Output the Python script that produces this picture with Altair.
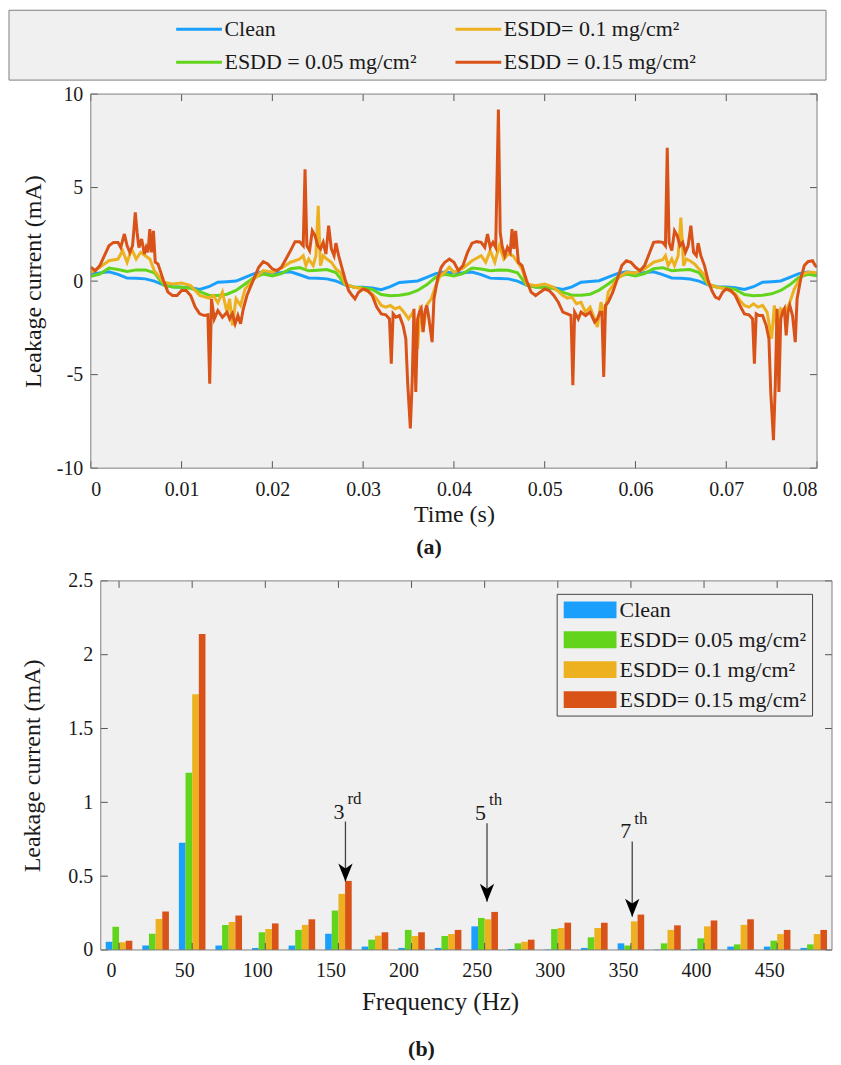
import altair as alt
import pandas as pd

FONT = "Liberation Serif"
BLUE, GREEN, YELLOW, RED = "#1aa0fc", "#62d41c", "#edb120", "#d95319"
BG, FRAME, TICK, INK = "#f0f0f0", "#7f7f7f", "#555555", "#1a1a1a"

# ---------------- panel (a): leakage current waveforms ----------------
A_CLEAN, A_LOW, A_MID, A_HIGH = "Clean", "ESDD = 0.05 mg/cm²", "ESDD= 0.1 mg/cm²", "ESDD = 0.15 mg/cm²"

clean_t = list(range(81))  # ms
clean_v = [0.38, 0.44, 0.50, 0.36, 0.16, 0.15, 0.12, 0.00, -0.20, -0.30, -0.33, -0.36, -0.45, -0.30, -0.06, -0.03, 0.00, 0.20, 0.40, 0.50,
           0.44, 0.46, 0.50, 0.34, 0.17, 0.15, 0.12, 0.01, -0.20, -0.31, -0.33, -0.37, -0.46, -0.30, -0.07, -0.03, 0.01, 0.20, 0.40, 0.49,
           0.43, 0.45, 0.49, 0.35, 0.16, 0.14, 0.12, 0.00, -0.21, -0.30, -0.33, -0.36, -0.45, -0.31, -0.06, -0.02, 0.02, 0.21, 0.40, 0.50,
           0.44, 0.46, 0.50, 0.35, 0.17, 0.15, 0.11, 0.00, -0.20, -0.30, -0.32, -0.36, -0.45, -0.30, -0.06, -0.03, 0.01, 0.20, 0.40, 0.48, 0.40]

low_t = list(range(81))  # ms
low_v = [0.26, 0.38, 0.70, 0.62, 0.52, 0.60, 0.60, 0.45, -0.20, -0.32, -0.33, -0.38, -0.56, -0.75, -0.77, -0.70, -0.50, -0.15, 0.20, 0.38,
         0.27, 0.40, 0.66, 0.72, 0.55, 0.58, 0.62, 0.46, -0.18, -0.33, -0.35, -0.45, -0.72, -0.78, -0.75, -0.68, -0.50, -0.20, 0.22, 0.36,
         0.28, 0.40, 0.70, 0.65, 0.55, 0.60, 0.58, 0.45, -0.20, -0.33, -0.34, -0.40, -0.60, -0.75, -0.76, -0.70, -0.48, -0.15, 0.20, 0.38,
         0.27, 0.40, 0.67, 0.72, 0.56, 0.60, 0.62, 0.46, -0.18, -0.33, -0.35, -0.45, -0.72, -0.78, -0.76, -0.68, -0.50, -0.20, 0.20, 0.36, 0.28]

mid_t = [0, 1, 2, 3, 3.5, 4, 4.5, 5, 5.5, 6, 6.5, 7, 8, 9, 10, 11, 12, 13, 13.5, 14, 14.5, 15, 15.3, 15.6, 16, 16.5, 17, 18, 19,
         20, 21, 22, 22.5, 23, 23.4, 23.7, 24, 24.5, 24.8, 25.05, 25.3, 25.6, 26, 26.5, 27, 27.5, 28, 29, 30, 31, 31.5, 32, 32.5, 33, 33.5, 34, 34.5, 35, 35.5, 36, 36.3, 36.6, 37, 37.5, 38, 38.5, 39, 39.5,
         40, 41, 42, 43, 43.5, 44, 44.5, 45, 45.5, 46, 46.5, 47, 47.5, 48, 49, 50, 51, 52, 52.5, 53, 53.5, 54, 54.5, 55, 55.5, 55.8, 56.2, 56.6, 57, 58, 59,
         60, 61, 62, 63, 63.3, 63.6, 64, 64.3, 64.7, 65.0, 65.3, 65.6, 66, 66.5, 67, 67.5, 68, 69, 70, 71, 71.5, 72, 72.5, 73, 73.5, 74, 74.5, 75, 75.3, 75.6, 76, 76.5, 77, 77.5, 78, 78.5, 79, 79.5, 80]
mid_v = [0.47, 0.74, 1.09, 1.18, 1.63, 1.00, 1.72, 1.18, 1.54, 1.36, 1.18, 0.56, -0.06, -0.15, -0.10, -0.24, -0.77, -0.91, -0.77, -1.16, -0.59, -1.66, -0.95, -2.37, -0.95, -1.30, -0.42, 0.12, 0.56,
         0.47, 0.69, 1.01, 1.09, 1.18, 1.36, 0.83, 1.18, 0.83, 1.36, 4.02, 0.83, 1.36, 1.18, 1.01, 0.65, 0.47, -0.15, -0.33, -0.42, -0.68, -0.95, -1.30, -1.39, -1.30, -1.48, -1.39, -1.66, -2.02, -1.66, -3.62, -1.30, -2.72, -1.30, -0.95, -0.24, 0.29, 0.47, 0.74,
         0.47, 0.69, 1.09, 1.36, 1.01, 1.63, 1.01, 1.89, 1.18, 1.45, 1.36, 1.01, 0.65, -0.15, -0.24, -0.15, -0.33, -0.77, -0.91, -0.86, -1.21, -1.13, -1.66, -1.39, -2.02, -2.46, -1.13, -1.84, -0.59, 0.12, 0.47,
         0.44, 0.65, 1.01, 1.15, 1.36, 0.83, 1.18, 0.83, 1.36, 3.40, 0.83, 1.18, 1.09, 0.92, 0.65, 0.38, -0.15, -0.33, -0.42, -0.68, -1.04, -1.30, -1.39, -1.21, -1.39, -1.30, -1.66, -3.08, -1.30, -2.72, -1.48, -1.66, -1.13, -0.42, 0.03, 0.38, 0.47, 0.47, 0.44]

high_t = [0, 0.5, 1, 1.5, 2, 2.5, 3, 3.3, 3.7, 4, 4.3, 4.6, 4.9, 5.1, 5.3, 5.6, 5.9, 6.1, 6.3, 6.5, 6.7, 6.9, 7.1, 7.4, 8, 8.5, 9, 9.5, 10, 10.5, 11, 11.5, 12, 12.5, 12.9, 13.1, 13.3, 13.6, 14, 14.5, 15, 15.3, 15.6, 15.9, 16.2, 16.5, 16.8, 17.2, 17.8, 18.5, 19, 19.5,
          20, 20.5, 21, 21.5, 22, 22.5, 23, 23.4, 23.6, 23.8, 24.1, 24.4, 24.7, 25, 25.3, 25.6, 25.9, 26.2, 26.5, 26.8, 27, 27.3, 27.6, 28, 28.4, 28.8, 29.1, 29.5, 30, 30.5, 31, 31.5, 32, 32.5, 32.9, 33.1, 33.3, 33.6, 34, 34.4, 34.7, 34.9, 35.2, 35.4, 35.6, 35.8, 36.0, 36.2, 36.4, 36.6, 36.8, 37.0, 37.2, 37.6, 37.8, 38.2, 38.6, 39, 39.5,
          40, 40.5, 41, 41.5, 42, 42.5, 43, 43.4, 43.7, 44, 44.3, 44.6, 44.9, 45.1, 45.3, 45.6, 45.9, 46.2, 46.4, 46.6, 46.8, 47.1, 47.5, 48, 48.5, 49, 49.5, 50, 50.5, 51, 51.5, 52, 52.5, 52.9, 53.1, 53.3, 53.7, 54, 54.5, 55, 55.5, 55.8, 56.1, 56.3, 56.5, 56.7, 57, 57.5, 58, 58.5, 59, 59.5,
          60, 60.5, 61, 61.5, 62, 62.5, 63, 63.3, 63.5, 63.7, 64, 64.3, 64.6, 64.9, 65.2, 65.5, 65.8, 66.1, 66.4, 66.7, 66.9, 67.2, 67.6, 68, 68.4, 68.8, 69.2, 69.6, 70, 70.5, 71, 71.5, 72, 72.5, 72.9, 73.1, 73.3, 73.6, 74, 74.4, 74.7, 74.9, 75.2, 75.4, 75.6, 75.8, 76.0, 76.2, 76.4, 76.6, 76.8, 77.0, 77.3, 77.6, 77.8, 78.2, 78.6, 79, 79.5, 79.8, 80]
high_v = [0.74, 0.56, 0.83, 1.36, 1.89, 2.07, 2.07, 1.80, 2.52, 1.89, 1.54, 1.89, 3.67, 2.60, 1.80, 2.25, 1.45, 1.80, 1.54, 2.78, 1.54, 2.69, 1.01, 0.92, 0.03, -0.59, -0.77, -0.77, -0.50, -0.50, -0.77, -1.39, -1.75, -1.84, -1.80, -5.48, -0.95, -2.02, -1.57, -1.93, -1.66, -2.02, -1.75, -2.28, -1.84, -2.28, -1.48, -0.77, -0.06, 0.74, 1.04, 0.92,
          0.65, 0.56, 0.74, 1.18, 1.63, 2.11, 2.11, 1.89, 5.98, 1.89, 1.63, 2.69, 2.43, 1.89, 1.72, 2.07, 1.45, 2.96, 1.72, 1.36, 2.03, 1.36, 0.83, 0.12, -0.50, -0.77, -0.95, -0.59, -0.42, -0.50, -0.77, -1.39, -1.75, -1.80, -2.02, -4.41, -1.75, -1.93, -1.84, -2.37, -3.08, -5.39, -7.88, -5.39, -1.48, -5.92, -2.02, -1.66, -1.48, -2.72, -1.66, -1.30, -1.84, -3.26, -0.95, 0.12, 0.74, 1.01, 1.18,
          1.01, 0.56, 0.83, 1.54, 2.03, 2.11, 2.07, 1.80, 2.52, 1.80, 2.07, 1.80, 9.18, 2.60, 1.89, 1.36, 1.80, 1.54, 2.78, 1.72, 2.69, 1.01, 0.83, 0.03, -0.59, -0.77, -0.59, -0.42, -0.50, -0.77, -1.13, -1.66, -1.75, -1.84, -5.57, -1.66, -2.02, -1.66, -1.84, -1.66, -2.19, -2.02, -1.66, -1.66, -5.12, -1.30, -1.13, -0.59, 0.12, 0.83, 1.09, 1.01,
          0.74, 0.56, 0.83, 1.45, 2.07, 2.11, 2.07, 1.89, 7.13, 2.07, 1.63, 2.69, 2.43, 1.89, 2.07, 1.54, 1.89, 2.96, 1.54, 1.36, 2.03, 1.36, 0.83, 0.03, -0.50, -0.86, -0.95, -0.59, -0.42, -0.50, -0.77, -1.30, -1.75, -1.80, -2.02, -4.41, -1.75, -1.84, -1.84, -2.37, -3.08, -5.92, -8.50, -5.57, -1.48, -5.92, -2.02, -1.66, -1.48, -2.90, -1.66, -1.30, -1.84, -3.26, -0.95, 0.12, 0.83, 1.04, 1.09, 0.83, 0.74]

time_ticks = [0, 0.01, 0.02, 0.03, 0.04, 0.05, 0.06, 0.07, 0.08]
current_ticks = [-10, -5, 0, 5, 10]

# ---------------- panel (b): harmonic spectrum ----------------
B_CLEAN, B_LOW, B_MID, B_HIGH = "Clean", "ESDD= 0.05 mg/cm²", "ESDD= 0.1 mg/cm²", "ESDD= 0.15 mg/cm²"
freq_hz = [0, 25, 50, 75, 100, 125, 150, 175, 200, 225, 250, 275, 300, 325, 350, 375, 400, 425, 450, 475]
clean_mA = [0.056, 0.030, 0.727, 0.030, 0.014, 0.030, 0.110, 0.023, 0.014, 0.014, 0.160, 0.007, 0.003, 0.014, 0.045, 0.003, 0.007, 0.023, 0.023, 0.014]
low_mA = [0.158, 0.110, 1.200, 0.170, 0.120, 0.136, 0.267, 0.070, 0.136, 0.095, 0.217, 0.045, 0.142, 0.086, 0.030, 0.045, 0.079, 0.038, 0.063, 0.038]
mid_mA = [0.052, 0.210, 1.733, 0.190, 0.142, 0.170, 0.380, 0.097, 0.095, 0.108, 0.208, 0.056, 0.149, 0.149, 0.194, 0.136, 0.160, 0.170, 0.108, 0.108]
high_mA = [0.063, 0.260, 2.140, 0.233, 0.180, 0.208, 0.468, 0.120, 0.120, 0.136, 0.258, 0.070, 0.185, 0.185, 0.240, 0.167, 0.200, 0.208, 0.136, 0.136]
freq_ticks = [0, 50, 100, 150, 200, 250, 300, 350, 400, 450]
amp_ticks = [0, 0.5, 1, 1.5, 2, 2.5]

ann_num = ["3", "5", "7"]
ann_sup = ["rd", "th", "th"]
ann_hz = [154.8, 251.6, 350.9]
ann_top = [0.870, 0.858, 0.735]
ann_tip = [0.464, 0.327, 0.226]

# ---------------- tables ----------------
rows_a = []
for name, ts, vs in [(A_CLEAN, clean_t, clean_v), (A_LOW, low_t, low_v), (A_MID, mid_t, mid_v), (A_HIGH, high_t, high_v)]:
    assert len(ts) == len(vs), name
    for t, v in zip(ts, vs):
        rows_a.append({"t": t / 1000.0, "v": v, "series": name})
df_a = pd.DataFrame(rows_a)

rows_b = []
for k, (name, vals) in enumerate([(B_CLEAN, clean_mA), (B_LOW, low_mA), (B_MID, mid_mA), (B_HIGH, high_mA)]):
    for f, v in zip(freq_hz, vals):
        rows_b.append({"hz": f, "k": k, "mA": v, "series": name})
df_b = pd.DataFrame(rows_b)
df_ann = pd.DataFrame({"hz": ann_hz, "top": ann_top, "tip": ann_tip, "num": ann_num, "sup": ann_sup})

one = alt.Data(values=[{"a": 1}])

# ---------------- chart (a) ----------------
W_A, H_A = 728, 375
xs_a = alt.Scale(domain=[0, 0.08], nice=False, zero=False)
ys_a = alt.Scale(domain=[-10, 10], nice=False, zero=False)
col_a = alt.Scale(domain=[A_CLEAN, A_LOW, A_MID, A_HIGH], range=[BLUE, GREEN, YELLOW, RED])
ax_x_a = alt.Axis(values=time_ticks, format=".2~f", ticks=False, domain=False, grid=False,
                  labelFont=FONT, labelFontSize=20, labelColor=INK, labelPadding=11, title="Time (s)",
                  titleFont=FONT, titleFontSize=24, titleFontWeight="normal", titleColor=INK, titlePadding=3)
ax_y_a = alt.Axis(values=current_ticks, labelExpr="replace(datum.label, '\u2212', '-')", ticks=False,
                  domain=False, grid=False, labelFont=FONT, labelFontSize=20, labelColor=INK, labelPadding=8,
                  title="Leakage current (mA)", titleFont=FONT, titleFontSize=24, titleFontWeight="normal",
                  titleColor=INK, titlePadding=11)
leg_a = alt.Legend(orient="none", legendX=83, legendY=-76, columns=2, columnPadding=32, rowPadding=11,
                   symbolType="M-2.7,0L2.7,0", symbolSize=289, symbolStrokeWidth=3, symbolOffset=14.5,
                   labelFont=FONT, labelFontSize=22, labelColor=INK, labelOffset=14.5, labelLimit=400,
                   padding=0, title=None)
X_A = alt.X("t:Q", scale=xs_a, axis=ax_x_a)
Y_A = alt.Y("v:Q", scale=ys_a, axis=ax_y_a)

legend_box_a = alt.Chart(one).mark_rect(fill=BG, stroke=FRAME, strokeWidth=1).encode(
    x=alt.value(-82), x2=alt.value(737), y=alt.value(-84), y2=alt.value(-14))
bg_a = alt.Chart(one).mark_rect(fill=BG).encode(
    x=alt.value(0), x2=alt.value(W_A), y=alt.value(0), y2=alt.value(H_A))
lines_a = [
    alt.Chart(df_a).transform_filter(alt.datum.series == name).mark_line(strokeWidth=3, clip=True).encode(
        x=X_A, y=Y_A, color=alt.Color("series:N", scale=col_a, legend=leg_a))
    for name in [A_CLEAN, A_LOW, A_MID, A_HIGH]
]
tx_a = pd.DataFrame({"t": time_ticks})
ty_a = pd.DataFrame({"v": current_ticks})
ticks_a = [
    alt.Chart(tx_a).mark_rule(color=TICK).encode(x=X_A, y=alt.value(H_A), y2=alt.value(H_A - 7)),
    alt.Chart(tx_a).mark_rule(color=TICK).encode(x=X_A, y=alt.value(0), y2=alt.value(7)),
    alt.Chart(ty_a).mark_rule(color=TICK).encode(y=Y_A, x=alt.value(0), x2=alt.value(7)),
    alt.Chart(ty_a).mark_rule(color=TICK).encode(y=Y_A, x=alt.value(W_A), x2=alt.value(W_A - 7)),
]
frame_a = alt.Chart(one).mark_rect(fill="transparent", stroke=FRAME, strokeWidth=1).encode(
    x=alt.value(0), x2=alt.value(W_A), y=alt.value(0), y2=alt.value(H_A))

chart_a = alt.layer(legend_box_a, bg_a, *lines_a, *ticks_a, frame_a).properties(
    width=W_A, height=H_A,
    title=alt.TitleParams("(a)", orient="bottom", font=FONT, fontSize=22, fontWeight="bold", color=INK,
                          offset=11, dx=-25))

# ---------------- chart (b) ----------------
W_B, H_B = 743, 370
L_B = 10  # plot-box starts 10 px right of panel (a)'s box
xs_b = alt.Scale(domain=[-12.5, 487.5], range=[L_B, W_B], nice=False, zero=False)
ys_b = alt.Scale(domain=[0, 2.5], nice=False, zero=False)
col_b = alt.Scale(domain=[B_CLEAN, B_LOW, B_MID, B_HIGH], range=[BLUE, GREEN, YELLOW, RED])
ax_x_b = alt.Axis(values=freq_ticks, ticks=False, domain=False, grid=False, labelFont=FONT, labelFontSize=20,
                  labelColor=INK, labelPadding=11, labelOffset=-8, title="Frequency (Hz)", titleFont=FONT,
                  titleFontSize=25, titleFontWeight="normal", titleColor=INK, titlePadding=9, titleX=350)
ax_y_b = alt.Axis(values=amp_ticks, format="~g", offset=-L_B, ticks=False, domain=False, grid=False,
                  labelFont=FONT, labelFontSize=20, labelColor=INK, labelPadding=8, title="Leakage current (mA)",
                  titleFont=FONT, titleFontSize=24, titleFontWeight="normal", titleColor=INK, titlePadding=23)
leg_b = alt.Legend(orient="none", legendX=467, legendY=13, direction="vertical",
                   symbolType="M-2.94,-0.94L2.94,-0.94L2.94,0.94L-2.94,0.94Z", symbolSize=324,
                   symbolStrokeWidth=0, symbolOffset=17.5,
                   labelFont=FONT, labelFontSize=22, labelColor=INK, labelOffset=18.5, labelLimit=400,
                   rowPadding=8, padding=5, fillColor=BG, strokeColor="#444444", title=None)

bg_b = alt.Chart(one).mark_rect(fill=BG).encode(
    x=alt.value(L_B), x2=alt.value(W_B), y=alt.value(0), y2=alt.value(H_B))
bars_b = alt.Chart(df_b).transform_calculate(
    x0="datum.hz + (datum.k - 2) * 4.545", x1="datum.hz + (datum.k - 1) * 4.545"
).mark_bar(clip=True).encode(
    x=alt.X("x0:Q", scale=xs_b, axis=ax_x_b), x2="x1:Q",
    y=alt.Y("mA:Q", scale=ys_b, axis=ax_y_b), y2=alt.datum(0),
    color=alt.Color("series:N", scale=col_b, legend=leg_b))
tx_b = pd.DataFrame({"x0": freq_ticks})
ty_b = pd.DataFrame({"mA": amp_ticks})
X_B = alt.X("x0:Q", scale=xs_b, axis=ax_x_b)
Y_B = alt.Y("mA:Q", scale=ys_b, axis=ax_y_b)
ticks_b = [
    alt.Chart(tx_b).mark_rule(color=TICK).encode(x=X_B, y=alt.value(H_B), y2=alt.value(H_B - 7)),
    alt.Chart(tx_b).mark_rule(color=TICK).encode(x=X_B, y=alt.value(0), y2=alt.value(7)),
    alt.Chart(ty_b).mark_rule(color=TICK).encode(y=Y_B, x=alt.value(L_B), x2=alt.value(L_B + 7)),
    alt.Chart(ty_b).mark_rule(color=TICK).encode(y=Y_B, x=alt.value(W_B), x2=alt.value(W_B - 7)),
]
X_ANN = alt.X("hz:Q", scale=xs_b, axis=ax_x_b)
arrow_shaft = alt.Chart(df_ann).mark_rule(color="#444444", strokeWidth=1.3).encode(
    x=X_ANN, y=alt.Y("top:Q", scale=ys_b, axis=ax_y_b), y2="tip:Q")
arrow_head = alt.Chart(df_ann).mark_point(
    shape="M0,0L-0.8,-2L0,-1.45L0.8,-2Z", size=324, filled=True, fill="black", opacity=1, strokeWidth=0
).encode(x=X_ANN, y=alt.Y("tip:Q", scale=ys_b, axis=ax_y_b))
ann_main = alt.Chart(df_ann).mark_text(align="right", baseline="alphabetic", dx=-1, dy=-3,
                                       font=FONT, fontSize=22, color=INK).encode(
    x=X_ANN, y=alt.Y("top:Q", scale=ys_b, axis=ax_y_b), text="num:N")
ann_sup_t = alt.Chart(df_ann).mark_text(align="left", baseline="alphabetic", dx=2, dy=-18,
                                        font=FONT, fontSize=17, color=INK).encode(
    x=X_ANN, y=alt.Y("top:Q", scale=ys_b, axis=ax_y_b), text="sup:N")
frame_b = alt.Chart(one).mark_rect(fill="transparent", stroke=FRAME, strokeWidth=1).encode(
    x=alt.value(L_B), x2=alt.value(W_B), y=alt.value(0), y2=alt.value(H_B))

chart_b = alt.layer(bg_b, bars_b, *ticks_b, arrow_shaft, arrow_head, ann_main, ann_sup_t, frame_b).properties(
    width=W_B, height=H_B,
    title=alt.TitleParams("(b)", orient="bottom", font=FONT, fontSize=22, fontWeight="bold", color=INK,
                          offset=24, dx=-40))

chart = alt.vconcat(chart_a, chart_b, spacing=11).resolve_scale(color="independent").properties(
    padding={"left": 0, "top": 0, "right": 0, "bottom": 0}
).configure(font=FONT).configure_view(stroke="transparent")

chart.save("out.html", embed_options={"renderer": "svg", "actions": False})
